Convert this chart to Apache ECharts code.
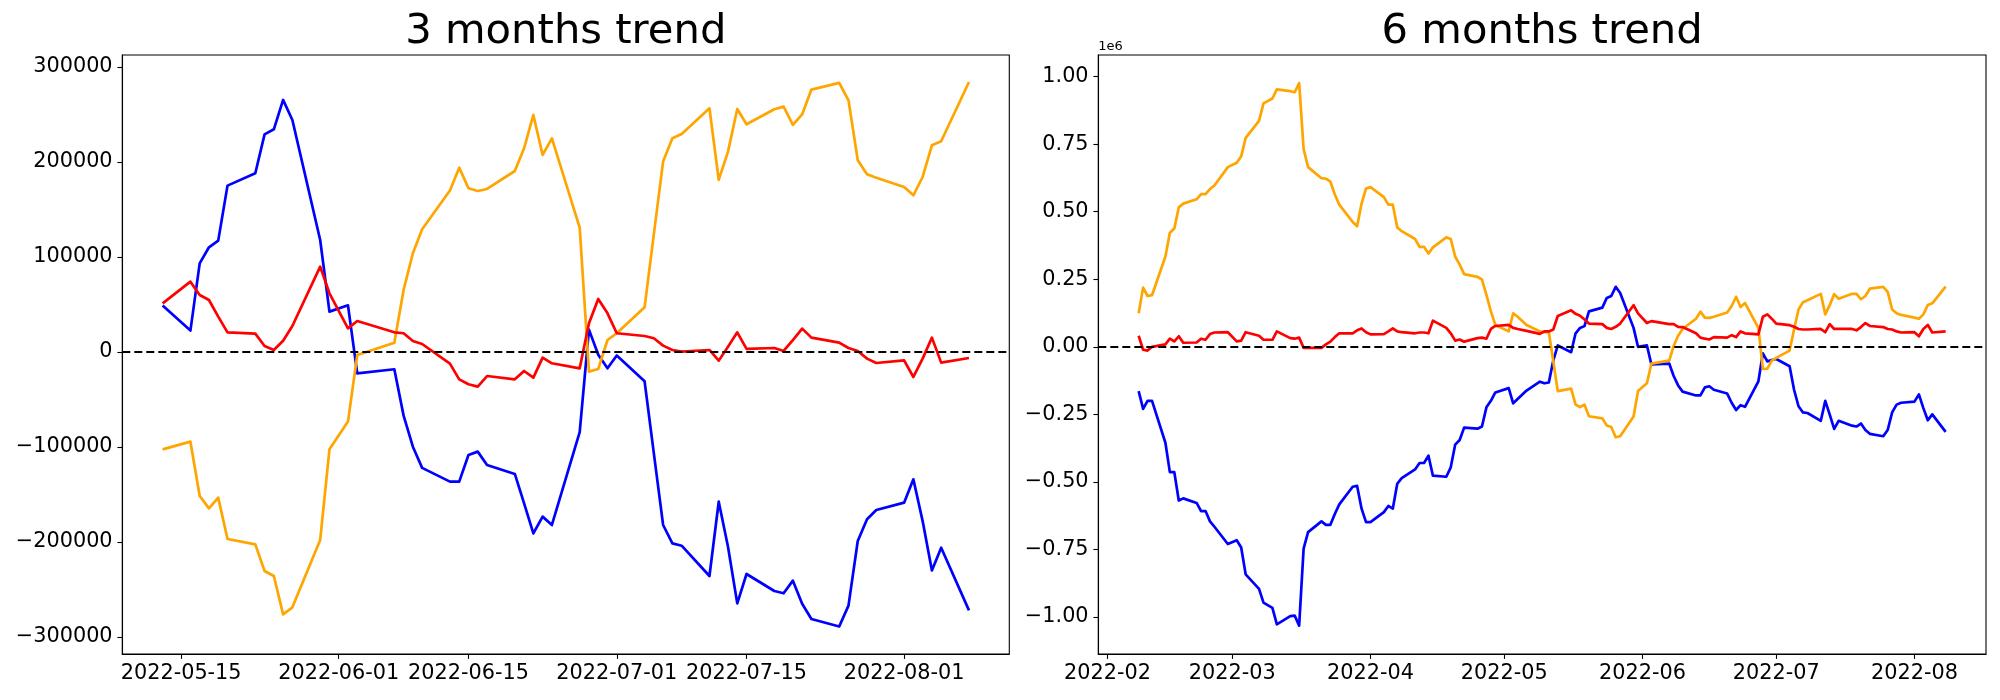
<!DOCTYPE html>
<html><head><meta charset="utf-8">
<script src="https://cdn.jsdelivr.net/npm/echarts@6/dist/echarts.min.js"></script>
<style>html,body{margin:0;padding:0;background:#fff}#c{width:2000px;height:700px}</style>
</head><body><div id="c"></div>
<script>
// ---------- 3 months trend ----------
const leftDates = [
'05-13','05-16','05-17','05-18','05-19','05-20',
'05-23','05-24','05-25','05-26','05-27',
'05-30','05-31','06-02','06-03',
'06-07','06-08','06-09','06-10',
'06-13','06-14','06-15','06-16','06-17',
'06-20','06-21','06-22','06-23','06-24',
'06-27','06-28','06-29','06-30','07-01',
'07-04','07-05','07-06','07-07','07-08',
'07-11','07-12','07-13','07-14','07-15',
'07-18','07-19','07-20','07-21','07-22',
'07-25','07-26','07-27','07-28','07-29',
'08-01','08-02','08-03','08-04','08-05',
'08-08'];
const leftBlue = [
48800,22500,93300,110200,117200,175100,
188100,229100,234400,265300,244200,
117900,42500,49100,-22500,
-18200,-67000,-99700,-122000,
-136500,-136500,-108400,-104900,-119000,
-128400,-159300,-190900,-173300,-182100,
-84400,23500,-3000,-17200,-3700,
-30800,-106700,-182100,-201400,-203900,
-235800,-157600,-205000,-264600,-233700,
-251600,-254000,-240700,-265000,-281000,
-289000,-267000,-199000,-176100,-166300,
-158600,-134000,-178000,-230000,-206000,
-272000];
const leftOrange = [
-102500,-94400,-151600,-164600,-153300,-196900,
-202500,-230500,-235800,-276200,-268800,
-197900,-102500,-73300,-3200,
9800,65300,103900,129100,
170000,194000,172300,169500,171600,
190500,214400,249500,207400,224900,
130900,-20700,-17900,12600,19700,
47000,124000,200400,224900,229500,
256500,181100,210900,255800,239700,
255500,258300,239000,250000,276200,
283200,264900,201800,187000,183500,
173700,164900,184200,217600,221800,
284200];
const leftRed = [
51200,74000,60000,54700,37200,20700,
19300,6300,2100,11900,27400,
89800,61800,24900,32600,
20700,19700,11600,8400,
-12200,-28800,-34000,-36500,-25300,
-28800,-20000,-27000,-6000,-11900,
-17200,30200,55800,40700,19700,
16800,14400,6700,2100,400,
2100,-9100,5600,20700,3200,
4200,1100,12600,24600,15100,
9800,4200,1100,-7000,-11600,
-8800,-26300,-7000,15100,-11200,
-6300];
const leftYTicks = [-300000,-200000,-100000,0,100000,200000,300000];
const leftXTicks = ['2022-05-15','2022-06-01','2022-06-15','2022-07-01','2022-07-15','2022-08-01'];

// ---------- 6 months trend (values in units of 1e6) ----------
const rightDates = [
'02-08','02-09','02-10','02-11',
'02-14','02-15','02-16','02-17','02-18',
'02-21','02-22','02-23','02-24','02-25',
'02-28','03-02','03-03','03-04',
'03-07','03-08','03-10','03-11',
'03-14','03-15','03-16','03-17','03-18',
'03-21','03-22','03-23','03-24','03-25',
'03-28','03-29','03-30','03-31','04-01',
'04-04','04-05','04-06','04-07','04-08',
'04-11','04-12','04-13','04-14','04-15',
'04-18','04-19','04-20','04-21','04-22',
'04-25','04-26','04-27','04-28','04-29',
'05-02','05-03','05-04','05-06',
'05-09','05-10','05-11','05-12','05-13',
'05-16','05-17','05-18','05-19','05-20',
'05-23','05-24','05-25','05-26','05-27',
'05-30','05-31','06-02','06-03',
'06-07','06-08','06-09','06-10',
'06-13','06-14','06-15','06-16','06-17',
'06-20','06-21','06-22','06-23','06-24',
'06-27','06-28','06-29','06-30','07-01',
'07-04','07-05','07-06','07-07','07-08',
'07-11','07-12','07-13','07-14','07-15',
'07-18','07-19','07-20','07-21','07-22',
'07-25','07-26','07-27','07-28','07-29',
'08-01','08-02','08-03','08-04','08-05',
'08-08'];
const rightOrange = [
0.124,0.219,0.188,0.191,
0.334,0.422,0.438,0.516,0.530,
0.546,0.565,0.565,0.584,0.597,
0.665,0.681,0.705,0.773,
0.836,0.901,0.919,0.953,
0.946,0.942,0.976,0.732,0.665,
0.624,0.622,0.611,0.564,0.526,
0.462,0.446,0.530,0.586,0.591,
0.554,0.526,0.526,0.442,0.428,
0.399,0.370,0.370,0.345,0.368,
0.405,0.399,0.334,0.304,0.269,
0.259,0.249,0.192,0.131,0.081,
0.057,0.124,0.111,0.081,
0.057,0.054,0.054,-0.054,-0.164,
-0.155,-0.214,-0.223,-0.214,-0.257,
-0.265,-0.291,-0.297,-0.335,-0.331,
-0.258,-0.164,-0.135,-0.062,
-0.051,0.003,0.041,0.066,
0.104,0.130,0.108,0.107,0.111,
0.127,0.151,0.185,0.147,0.162,
0.070,-0.082,-0.081,-0.051,-0.041,
-0.014,0.064,0.138,0.165,0.172,
0.196,0.120,0.154,0.195,0.178,
0.196,0.196,0.176,0.188,0.215,
0.222,0.203,0.138,0.124,0.118,
0.108,0.104,0.120,0.155,0.161,
0.223];
const rightRed = [
0.041,-0.011,-0.014,0.000,
0.009,0.030,0.020,0.039,0.015,
0.016,0.030,0.026,0.047,0.053,
0.054,0.020,0.023,0.054,
0.041,0.026,0.026,0.057,
0.032,0.030,0.034,-0.004,-0.004,
-0.004,0.009,0.019,0.036,0.050,
0.050,0.061,0.068,0.054,0.046,
0.047,0.057,0.068,0.057,0.054,
0.050,0.053,0.053,0.050,0.097,
0.070,0.050,0.023,0.027,0.019,
0.032,0.034,0.030,0.066,0.077,
0.081,0.070,0.066,0.059,
0.048,0.057,0.057,0.064,0.114,
0.135,0.122,0.115,0.101,0.086,
0.084,0.070,0.066,0.074,0.086,
0.154,0.124,0.088,0.095,
0.084,0.084,0.074,0.073,
0.050,0.034,0.030,0.027,0.036,
0.034,0.043,0.036,0.057,0.050,
0.046,0.111,0.120,0.104,0.086,
0.080,0.074,0.066,0.064,0.064,
0.066,0.054,0.084,0.066,0.066,
0.066,0.061,0.073,0.088,0.077,
0.073,0.066,0.064,0.057,0.053,
0.054,0.039,0.066,0.081,0.053,
0.057];
const rightBlue = [
-0.164,-0.230,-0.200,-0.200,
-0.355,-0.464,-0.464,-0.569,-0.561,
-0.578,-0.608,-0.608,-0.646,-0.666,
-0.730,-0.716,-0.743,-0.842,
-0.896,-0.947,-0.966,-1.027,
-0.997,-0.995,-1.032,-0.747,-0.686,
-0.646,-0.659,-0.659,-0.619,-0.583,
-0.518,-0.515,-0.599,-0.649,-0.649,
-0.612,-0.589,-0.599,-0.507,-0.486,
-0.454,-0.430,-0.430,-0.403,-0.477,
-0.481,-0.446,-0.362,-0.345,-0.299,
-0.303,-0.295,-0.224,-0.200,-0.169,
-0.153,-0.209,-0.193,-0.162,
-0.129,-0.135,-0.132,-0.051,0.005,
-0.020,0.050,0.070,0.077,0.131,
0.145,0.181,0.188,0.222,0.199,
0.070,0.000,0.005,-0.065,
-0.062,-0.108,-0.143,-0.166,
-0.180,-0.180,-0.150,-0.146,-0.159,
-0.173,-0.207,-0.234,-0.216,-0.222,
-0.128,-0.024,-0.054,-0.049,-0.045,
-0.072,-0.159,-0.220,-0.243,-0.245,
-0.274,-0.200,-0.251,-0.304,-0.274,
-0.292,-0.295,-0.284,-0.308,-0.322,
-0.331,-0.308,-0.243,-0.214,-0.207,
-0.203,-0.176,-0.227,-0.272,-0.250,
-0.315];
const rightYTicks = [-1,-0.75,-0.5,-0.25,0,0.25,0.5,0.75,1];
const rightXTicks = ['2022-02-01','2022-03-01','2022-04-01','2022-05-01','2022-06-01','2022-07-01','2022-08-01'];

// ---------- build ----------
const FONT = '"DejaVu Sans", sans-serif';
const ts = s => Date.parse(s + 'T00:00:00Z');
const DAY = 86400000;
const pairs = (dates, vals) => dates.map((d, i) => [ts('2022-' + d), vals[i]]);
const minus = s => s.replace('-', '\u2212');
const pad = n => String(n).padStart(2, '0');
const fmtDay = v => { const d = new Date(v); return d.getUTCFullYear() + '-' + pad(d.getUTCMonth() + 1) + '-' + pad(d.getUTCDate()); };
const fmtMonth = v => { const d = new Date(v); return d.getUTCFullYear() + '-' + pad(d.getUTCMonth() + 1); };

function xRange(dates) {
  const a = ts('2022-' + dates[0]), b = ts('2022-' + dates[dates.length - 1]);
  const m = (b - a) * 0.05;
  return [a - m, b + m];
}
const lx = xRange(leftDates), rx = xRange(rightDates);

const GL = { left: 122.3, top: 55, width: 887, height: 599 };
const GR = { left: 1098.3, top: 55, width: 887.7, height: 599 };

function xAxis(idx, range, ticks, fmt) {
  const vals = ticks.map(ts);
  return {
    type: 'value', gridIndex: idx, min: range[0], max: range[1],
    splitLine: { show: false },
    axisLine: { show: true, onZero: false, lineStyle: { color: '#000', width: 1.1 } },
    axisTick: { show: true, inside: false, length: 4.9, lineStyle: { color: '#000', width: 1.1 }, customValues: vals },
    axisLabel: { show: true, customValues: vals, formatter: fmt, color: '#000', fontSize: 20.8, fontFamily: FONT, margin: 9 }
  };
}
function yAxis(idx, min, max, ticks, fmt) {
  return {
    type: 'value', gridIndex: idx, min: min, max: max,
    splitLine: { show: false },
    axisLine: { show: true, onZero: false, lineStyle: { color: '#000', width: 1.1 } },
    axisTick: { show: true, inside: false, length: 4.9, lineStyle: { color: '#000', width: 1.1 }, customValues: ticks },
    axisLabel: { show: true, customValues: ticks, formatter: fmt, color: '#000', fontSize: 20.8, fontFamily: FONT, margin: 9.7 }
  };
}
function line(idx, data, color, withZero) {
  const s = {
    type: 'line', xAxisIndex: idx, yAxisIndex: idx, data: data,
    showSymbol: false, symbol: 'none', animation: false, silent: true,
    lineStyle: { color: color, width: 2.7, join: 'round', cap: 'butt' }
  };
  if (withZero) {
    s.markLine = {
      silent: true, symbol: 'none', animation: false,
      label: { show: false },
      lineStyle: { color: '#000', width: 2, type: [8, 4] },
      data: [{ yAxis: 0 }]
    };
  }
  return s;
}

const chart = echarts.init(document.getElementById('c'), null, { renderer: 'canvas' });
chart.setOption({
  backgroundColor: '#fff',
  animation: false,
  grid: [
    Object.assign({ show: true, borderColor: '#000', borderWidth: 1.1, backgroundColor: 'transparent' }, GL),
    Object.assign({ show: true, borderColor: '#000', borderWidth: 1.1, backgroundColor: 'transparent' }, GR)
  ],
  xAxis: [
    xAxis(0, lx, leftXTicks, fmtDay),
    xAxis(1, rx, rightXTicks, fmtMonth)
  ],
  yAxis: [
    yAxis(0, -317900, 312600, leftYTicks, v => minus(String(Math.round(v)))),
    yAxis(1, -1.137, 1.08, rightYTicks, v => minus(v.toFixed(2)))
  ],
  series: [
    line(0, pairs(leftDates, leftBlue), '#0000ff', false),
    line(0, pairs(leftDates, leftOrange), '#ffa500', false),
    line(0, pairs(leftDates, leftRed), '#ff0000', true),
    line(1, pairs(rightDates, rightBlue), '#0000ff', false),
    line(1, pairs(rightDates, rightOrange), '#ffa500', false),
    line(1, pairs(rightDates, rightRed), '#ff0000', true)
  ],
  graphic: [
    { type: 'text', x: GL.left + GL.width / 2, y: 32, style: { text: '3 months trend', font: '41.7px ' + FONT, fill: '#000', textAlign: 'center', textVerticalAlign: 'middle' } },
    { type: 'text', x: GR.left + GR.width / 2, y: 32, style: { text: '6 months trend', font: '41.7px ' + FONT, fill: '#000', textAlign: 'center', textVerticalAlign: 'middle' } },
    { type: 'text', x: GR.left, y: 46.5, style: { text: '1e6', font: '13px ' + FONT, fill: '#000', textAlign: 'left', textVerticalAlign: 'middle' } }
  ]
});
</script>
</body></html>
